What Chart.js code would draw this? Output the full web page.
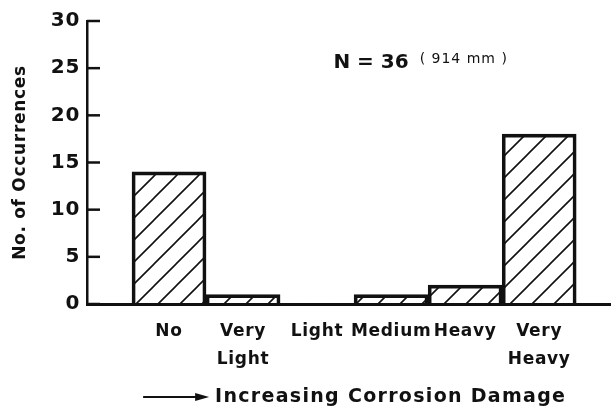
<!DOCTYPE html>
<html>
<head>
<meta charset="utf-8">
<script src="https://cdn.jsdelivr.net/npm/chart.js@4.4.0/dist/chart.umd.min.js"></script>
<style>
  html, body { margin: 0; padding: 0; background: #fff; }
  #wrap { width: 611px; height: 407px; }
</style>
</head>
<body>
<div id="wrap"><canvas id="damageChart" width="611" height="407"></canvas></div>
<script>
// corrosion damage classes (multi-line labels as in the figure)
const categories = [["No"], ["Very", "Light"], ["Light"], ["Medium"], ["Heavy"], ["Very", "Heavy"]];
const occurrences = [14, 1, 0, 1, 2, 18];
const yTicks = [0, 5, 10, 15, 20, 25, 30];

const ink = "#111";
const fontFamily = "'DejaVu Sans', sans-serif";

// diagonal hatch fill
function makeHatch(ctx) {
  const s = 22;
  const tile = document.createElement("canvas");
  tile.width = s;
  tile.height = s;
  const g = tile.getContext("2d");
  g.strokeStyle = ink;
  g.lineWidth = 1.6;
  g.beginPath();
  g.moveTo(0, s); g.lineTo(s, 0);
  g.moveTo(-s / 2, s / 2); g.lineTo(s / 2, -s / 2);
  g.moveTo(s / 2, s * 1.5); g.lineTo(s * 1.5, s / 2);
  g.stroke();
  return ctx.createPattern(tile, "repeat");
}

// the old typeface is wide and loosely spaced
const spacing = {
  id: "spacing",
  beforeUpdate(chart) { chart.ctx.letterSpacing = "0.7px"; },
  beforeDraw(chart) { chart.ctx.letterSpacing = "0.7px"; }
};

// inward tick marks on y axis, note text and arrow title
const extras = {
  id: "extras",
  afterDraw(chart) {
    const { ctx, chartArea, scales } = chart;
    const x = scales.x, y = scales.y;
    ctx.save();
    ctx.strokeStyle = ink;
    ctx.lineWidth = 2.5;
    yTicks.forEach(v => {
      const py = y.getPixelForValue(v);
      ctx.beginPath();
      ctx.moveTo(chartArea.left, py);
      ctx.lineTo(chartArea.left + 13, py);
      ctx.stroke();
    });

    // N = 36 (914 mm)
    ctx.fillStyle = ink;
    ctx.textBaseline = "middle";
    ctx.textAlign = "left";
    let nx = x.getPixelForValue(2.22);
    const ny = y.getPixelForValue(25.6);
    ctx.letterSpacing = "0px";
    ctx.font = "bold 20px " + fontFamily;
    ctx.fillText("N = 36", nx, ny);
    nx += ctx.measureText("N = 36").width + 11;
    ctx.letterSpacing = "1px";
    ctx.font = "14px " + fontFamily;
    ctx.fillText("( 914 mm )", nx, ny - 3);

    // arrow + axis title
    const ay = chart.height - 10;
    const ax0 = x.getPixelForValue(-0.35);
    const ax1 = ax0 + 66;
    ctx.lineWidth = 2;
    ctx.beginPath();
    ctx.moveTo(ax0, ay);
    ctx.lineTo(ax1 - 10, ay);
    ctx.stroke();
    ctx.beginPath();
    ctx.moveTo(ax1, ay);
    ctx.lineTo(ax1 - 14, ay - 4);
    ctx.lineTo(ax1 - 14, ay + 4);
    ctx.closePath();
    ctx.fill();
    ctx.letterSpacing = "1.3px";
    ctx.font = "bold 19px " + fontFamily;
    ctx.fillText("Increasing Corrosion Damage", ax1 + 6, ay);
    ctx.restore();
  }
};

window.addEventListener("load", () => {
  const canvas = document.getElementById("damageChart");
  const ctx = canvas.getContext("2d");
  const hatch = makeHatch(ctx);

  const points = occurrences.map((v, i) => ({ x: i, y: v }));

  new Chart(ctx, {
    type: "bar",
    data: {
      datasets: [{
        data: points,
        backgroundColor: hatch,
        borderColor: ink,
        borderWidth: c => (c.raw && c.raw.y === 0 ? 0 : 3),
        borderSkipped: "bottom",
        barPercentage: 1,
        categoryPercentage: 1
      }]
    },
    options: {
      responsive: false,
      animation: false,
      devicePixelRatio: 1,
      layout: { padding: { top: 21, right: 0, left: 0, bottom: 0 } },
      plugins: {
        legend: { display: false },
        tooltip: { enabled: false }
      },
      scales: {
        x: {
          type: "linear",
          offset: false,
          min: -1.108,
          max: 5.97,
          afterFit: s => { s.height = 103; },
          afterBuildTicks: s => { s.ticks = categories.map((c, i) => ({ value: i })); },
          grid: { display: false, drawTicks: false, offset: false },
          border: { display: true, color: ink, width: 3 },
          ticks: {
            autoSkip: false,
            maxRotation: 0,
            padding: 14,
            color: ink,
            font: { family: fontFamily, size: 17, weight: "bold", lineHeight: 1.65 },
            callback: v => categories[v] || ""
          }
        },
        y: {
          min: 0,
          max: 30,
          afterFit: s => { s.width = 87; },
          afterBuildTicks: s => { s.ticks = yTicks.map(v => ({ value: v })); },
          grid: { display: false, drawTicks: false },
          border: { display: true, color: ink, width: 2.5 },
          ticks: {
            padding: 7,
            color: ink,
            font: { family: fontFamily, size: 20, weight: "bold" }
          },
          title: {
            display: true,
            text: "No. of Occurrences",
            color: ink,
            padding: { top: 10, bottom: 0 },
            font: { family: fontFamily, size: 17, weight: "bold" }
          }
        }
      }
    },
    plugins: [spacing, extras]
  });
});
</script>
</body>
</html>
